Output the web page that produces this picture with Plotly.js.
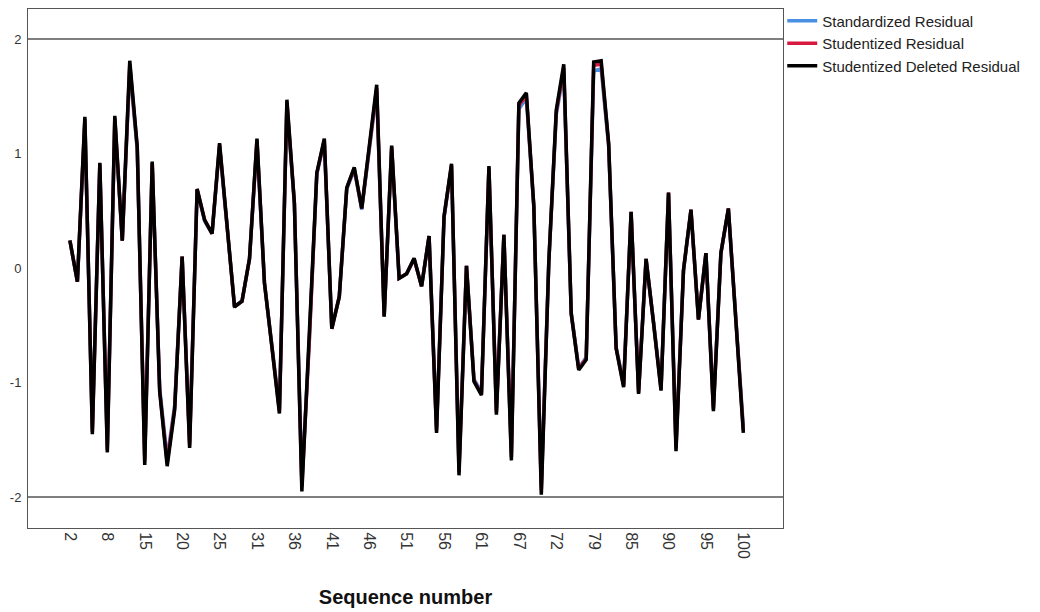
<!DOCTYPE html>
<html>
<head>
<meta charset="utf-8">
<script src="https://cdn.plot.ly/plotly-3.0.1.min.js"></script>
<style>
  html, body { margin: 0; padding: 0; background: #ffffff; }
  #chart { width: 1040px; height: 612px; }
</style>
</head>
<body>
<div id="chart"></div>
<script>
// Sequence numbers (category labels on the x axis)
const sequenceNumbers = [
  2, 3, 4, 5, 7, 8, 9, 11, 12, 14,
  15, 16, 17, 18, 19, 20, 21, 22, 23, 24,
  25, 26, 27, 29, 30, 31, 32, 33, 34, 35,
  36, 37, 38, 39, 40, 41, 42, 43, 44, 45,
  46, 47, 48, 49, 50, 51, 52, 53, 54, 55,
  56, 57, 58, 59, 60, 61, 62, 63, 65, 66,
  67, 68, 69, 70, 71, 72, 73, 75, 76, 78,
  79, 80, 81, 83, 84, 85, 86, 87, 88, 89,
  90, 91, 92, 93, 94, 95, 96, 97, 98, 99,
  100
];

const standardizedResidual = [
  0.24, -0.12, 1.28, -1.40, 0.90, -1.55, 1.29, 0.24, 1.74, 1.03,
  -1.65, 0.91, -1.05, -1.66, -1.20, 0.10, -1.52, 0.68, 0.41, 0.30,
  1.06, 0.37, -0.33, -0.29, 0.08, 1.10, -0.13, -0.68, -1.23, 1.42,
  0.56, -1.86, -0.62, 0.82, 1.10, -0.52, -0.25, 0.69, 0.86, 0.51,
  1.03, 1.54, -0.42, 1.04, -0.09, -0.05, 0.08, -0.16, 0.28, -1.39,
  0.44, 0.89, -1.74, 0.02, -0.97, -1.08, 0.87, -1.24, 0.29, -1.62,
  1.39, 1.48, 0.53, -1.90, 0.05, 1.34, 1.71, -0.39, -0.87, -0.78,
  1.72, 1.74, 1.06, -0.69, -1.01, 0.48, -1.07, 0.08, -0.47, -1.04,
  0.65, -1.54, -0.02, 0.50, -0.44, 0.13, -1.21, 0.13, 0.51, -0.45,
  -1.39
];

const studentizedResidual = [
  0.24, -0.12, 1.30, -1.43, 0.91, -1.59, 1.31, 0.24, 1.78, 1.05,
  -1.69, 0.92, -1.07, -1.70, -1.22, 0.10, -1.55, 0.69, 0.42, 0.30,
  1.08, 0.38, -0.34, -0.29, 0.08, 1.12, -0.13, -0.69, -1.25, 1.45,
  0.57, -1.91, -0.63, 0.83, 1.12, -0.53, -0.25, 0.70, 0.87, 0.52,
  1.05, 1.57, -0.42, 1.06, -0.09, -0.05, 0.08, -0.16, 0.28, -1.42,
  0.45, 0.90, -1.78, 0.02, -0.98, -1.10, 0.88, -1.26, 0.29, -1.65,
  1.42, 1.51, 0.54, -1.94, 0.05, 1.36, 1.75, -0.40, -0.88, -0.79,
  1.77, 1.78, 1.08, -0.70, -1.03, 0.49, -1.09, 0.08, -0.48, -1.06,
  0.66, -1.57, -0.02, 0.51, -0.45, 0.13, -1.23, 0.13, 0.52, -0.46,
  -1.42
];

const studentizedDeletedResidual = [
  0.24, -0.12, 1.32, -1.45, 0.92, -1.61, 1.33, 0.24, 1.81, 1.06,
  -1.72, 0.93, -1.08, -1.73, -1.24, 0.10, -1.57, 0.69, 0.42, 0.30,
  1.09, 0.38, -0.34, -0.29, 0.08, 1.13, -0.13, -0.69, -1.27, 1.47,
  0.57, -1.95, -0.63, 0.83, 1.13, -0.53, -0.25, 0.70, 0.88, 0.52,
  1.06, 1.60, -0.425, 1.07, -0.09, -0.05, 0.085, -0.16, 0.28, -1.44,
  0.45, 0.91, -1.81, 0.02, -0.99, -1.11, 0.89, -1.28, 0.29, -1.68,
  1.44, 1.53, 0.54, -1.98, 0.05, 1.38, 1.78, -0.40, -0.89, -0.80,
  1.80, 1.81, 1.09, -0.70, -1.04, 0.49, -1.10, 0.08, -0.48, -1.07,
  0.66, -1.60, -0.02, 0.51, -0.45, 0.13, -1.25, 0.13, 0.52, -0.46,
  -1.44
];

const seriesNames = ['Standardized Residual', 'Studentized Residual', 'Studentized Deleted Residual'];
const seriesColors = ['#4a90e2', '#d7193f', '#000000'];

// Tick labels shown on the x axis
const xTickLabels = ['2', '8', '15', '20', '25', '31', '36', '41', '46', '51', '56', '61', '67', '72', '79', '85', '90', '95', '100'];
const yTickValues = [-2, -1, 0, 1, 2];
const referenceLevels = [-2, 2];

const xCats = sequenceNumbers.map(String);
const seriesValues = [standardizedResidual, studentizedResidual, studentizedDeletedResidual];

const traces = seriesValues.map((vals, i) => ({
  type: 'scatter',
  mode: 'lines',
  x: xCats,
  y: vals,
  name: seriesNames[i],
  line: { color: seriesColors[i], width: 3.5 },
  hoverinfo: 'x+y+name'
}));

const fontFamily = '"Liberation Sans", Arial, sans-serif';

const layout = {
  width: 1040,
  height: 612,
  margin: { l: 28, r: 257, t: 9, b: 84, autoexpand: false },
  paper_bgcolor: '#ffffff',
  plot_bgcolor: '#ffffff',
  font: { family: fontFamily, size: 13, color: '#222222' },
  showlegend: true,
  legend: {
    x: 0.999, xanchor: 'left',
    yref: 'container',
    y: 0.9925, yanchor: 'top',
    font: { family: fontFamily, size: 15, color: '#222222' },
    bgcolor: 'rgba(0,0,0,0)',
    borderwidth: 0,
    itemwidth: 30,
    tracegroupgap: 0
  },
  xaxis: {
    type: 'category',
    range: [-5.6, 95.3],
    tickmode: 'array',
    tickvals: xTickLabels,
    ticktext: xTickLabels,
    tickangle: 90,
    ticks: '',
    showgrid: false,
    zeroline: false,
    showline: true,
    mirror: true,
    linecolor: '#555555',
    linewidth: 1,
    tickfont: { family: fontFamily, size: 16, color: '#333333' },
    automargin: false,
    title: {
      text: 'Sequence number',
      font: { family: fontFamily, size: 20, color: '#111111', weight: 'bold' },
      standoff: 32
    }
  },
  yaxis: {
    range: [-2.27, 2.262],
    tickmode: 'array',
    tickvals: yTickValues,
    ticktext: yTickValues.map(String),
    ticks: '',
    showgrid: false,
    zeroline: false,
    showline: true,
    mirror: true,
    linecolor: '#555555',
    linewidth: 1,
    ticklabelstandoff: 3,
    tickfont: { family: fontFamily, size: 13, color: '#333333' },
    automargin: false
  },
  shapes: referenceLevels.map(v => ({
    type: 'line',
    xref: 'paper', x0: 0, x1: 1,
    yref: 'y', y0: v, y1: v,
    line: { color: '#555555', width: 1.5 },
    layer: 'below'
  }))
};

Plotly.newPlot('chart', traces, layout, { displayModeBar: false, responsive: false });
</script>
</body>
</html>
